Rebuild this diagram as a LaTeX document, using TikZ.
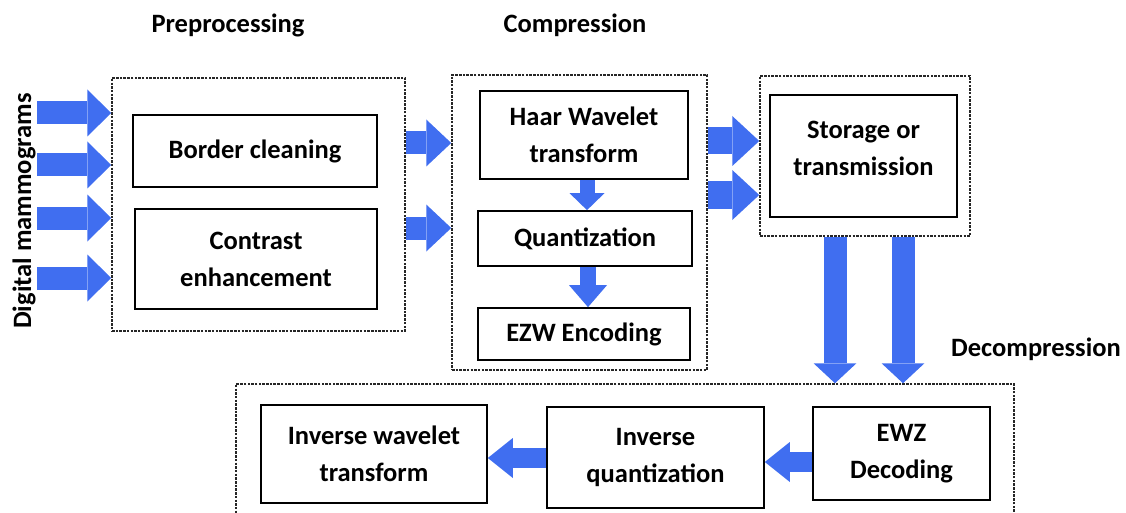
\documentclass[tikz,border=0pt]{standalone}
\usepackage{fontspec}
\setmainfont{Carlito}
\usetikzlibrary{arrows.meta}
\definecolor{flowblue}{RGB}{64,110,240}
\newcommand{\lab}{\fontsize{26.5}{37}\selectfont\bfseries}
\tikzset{
  box/.style={draw, line width=1.7pt, rectangle, inner sep=0pt, align=center, font=\lab},
  group/.style={draw=black!85, line width=1.5pt, dash pattern=on 2.5pt off 1.2pt, rectangle, inner sep=0pt},
  title/.style={inner sep=0pt, font=\lab, align=center},
  fat/.style args={#1/#2/#3}{draw=flowblue, line width=#1,
    -{Triangle[length=#3, width=#2, line width=0pt, fill=flowblue]}}
}
\begin{document}
\begin{tikzpicture}[x=1pt,y=-1pt]
\useasboundingbox (0,0) rectangle (1126,513);
\clip (0,0) rectangle (1126,513);

% stage groups
\node[group, minimum width=293pt, minimum height=253pt] (pre) at (258.5,204.5) {};
\node[group, minimum width=255pt, minimum height=295pt] (comp) at (579.5,222.5) {};
\node[group, minimum width=210pt, minimum height=160pt] (store) at (865,156) {};
\node[group, minimum width=778pt, minimum height=160pt] (dec) at (625,464) {};

% processing blocks
\node[box, minimum width=244pt, minimum height=72pt] (border) at (255,151) {Border cleaning};
\node[box, minimum width=242pt, minimum height=100pt] (contrast) at (256,259) {Contrast\\enhancement};
\node[box, minimum width=208pt, minimum height=88pt] (haar) at (584,135) {Haar Wavelet\\transform};
\node[box, minimum width=214pt, minimum height=55pt] (quant) at (585,238.5) {Quantization};
\node[box, minimum width=212pt, minimum height=52pt] (ezw) at (584,334) {EZW Encoding};
\node[box, minimum width=187pt, minimum height=122pt] (storebox) at (863.5,156) {};
\node[title] (storetext) at (863.5,148) {Storage or\\transmission};
\node[box, minimum width=226pt, minimum height=98pt] (iwt) at (374,454) {Inverse wavelet\\transform};
\node[box, minimum width=217pt, minimum height=101pt] (iq) at (655.5,457.5) {Inverse\\quantization};
\node[box, minimum width=177pt, minimum height=93pt] (ewz) at (901.5,453.5) {EWZ\\Decoding};

% headings
\node[title] (tpre) at (228,25) {Preprocessing};
\node[title] (tcomp) at (575,25) {Compression};
\node[title] (tdec) at (1036,349) {Decompression};
\node[title, rotate=90] (tin) at (24,211) {Digital mammograms};

% input images
\coordinate (in1) at (37,113);
\coordinate (in2) at (37,165);
\coordinate (in3) at (37,218);
\coordinate (in4) at (37,278);
\foreach \c in {in1,in2,in3,in4}
  \draw[fat=23pt/47pt/24pt] (\c) -- (\c -| pre.west);

% preprocessing -> compression
\draw[fat=23pt/47pt/25pt] (pre.east |- 0,143) -- (comp.west |- 0,143);
\draw[fat=23pt/47pt/25pt] (pre.east |- 0,228) -- (comp.west |- 0,228);

% inside compression
\draw[fat=15pt/35pt/17pt] (haar.south -| 587,0) -- (quant.north -| 587,0);
\draw[fat=16pt/38pt/22pt] (quant.south -| 588,0) -- (ezw.north -| 588,0);

% compression -> storage
\draw[fat=27pt/50pt/27pt] (comp.east |- 0,141) -- (store.west |- 0,141);
\draw[fat=27pt/50pt/27pt] (comp.east |- 0,195) -- (store.west |- 0,195);

% storage -> decompression
\draw[fat=23pt/43pt/20pt] (store.south -| 835,0) -- (dec.north -| 835,0);
\draw[fat=23pt/43pt/20pt] (store.south -| 903,0) -- (dec.north -| 903,0);

% decompression chain
\draw[fat=20pt/40pt/25pt] (ewz.west |- 0,462) -- (iq.east |- 0,462);
\draw[fat=20pt/40pt/25pt] (iq.west |- 0,458) -- (iwt.east |- 0,458);
\end{tikzpicture}
\end{document}
